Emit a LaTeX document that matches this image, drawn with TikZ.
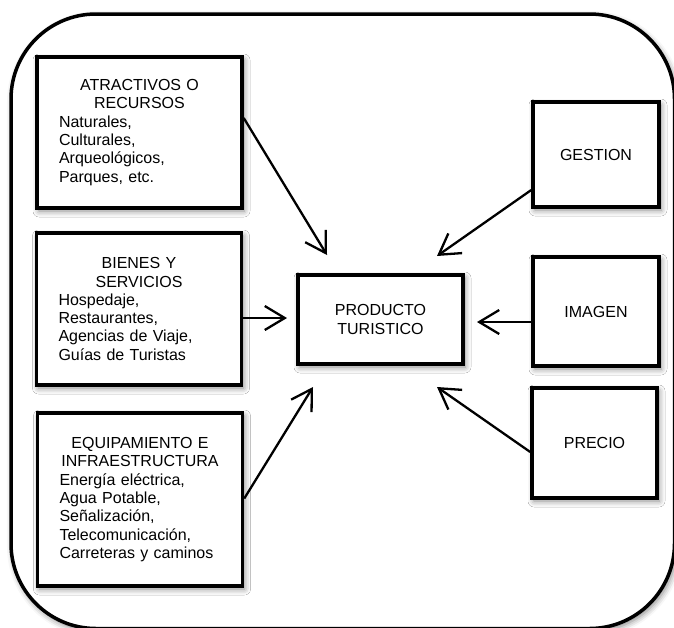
\documentclass[tikz,border=0pt]{standalone}
\usepackage{fontspec}
\setmainfont{Liberation Sans}
\usetikzlibrary{arrows.meta,shadows.blur}
\newcommand{\titulo}[1]{\makebox[\hsize]{#1}}
\tikzset{
  sombra/.style={blur shadow={shadow xshift=2pt, shadow yshift=-3pt, shadow blur radius=6pt, shadow opacity=50}},
  marco/.style={line width=3.5pt, fill=white, rounded corners=85pt, sombra},
  caja/.style={draw, line width=3.5pt, fill=white, sombra, font=\fontsize{16pt}{18.3pt}\selectfont},
  lista/.style={caja, text width=161pt, inner xsep=22pt, inner ysep=0pt, align=left},
  chica/.style={caja, align=center, inner sep=0pt},
  flecha/.style={line width=2.3pt, -{Straight Barb[length=20pt, width=24pt, line width=2.3pt]}}
}
\begin{document}
\begin{tikzpicture}[x=1pt, y=-1pt]
	\useasboundingbox (0,0) rectangle (674,627);
	\draw[marco] (11,14) rectangle (674.5,628.5);
	% cajas de la izquierda
	\node[lista, minimum height=151pt] (atr) at (139.5,132.5) {\titulo{ATRACTIVOS O}\\ \titulo{RECURSOS}\\ Naturales,\\ Culturales,\\ Arqueológicos,\\ Parques, etc.};
	\node[lista, minimum height=152pt] (bie) at (139,309) {\titulo{BIENES Y}\\ \titulo{SERVICIOS}\\ Hospedaje,\\ Restaurantes,\\ Agencias de Viaje,\\ Guías de Turistas};
	\node[lista, minimum height=173pt] (equ) at (140,499.5) {\titulo{EQUIPAMIENTO E}\\ \titulo{INFRAESTRUCTURA}\\ Energía eléctrica,\\ Agua Potable,\\ Señalización,\\ Telecomunicación,\\ Carreteras y caminos};
	% centro
	\node[chica, minimum width=165pt, minimum height=89pt] (prod) at (380.5,319.5) {PRODUCTO\\ TURISTICO};
	% cajas de la derecha
	\node[chica, minimum width=126pt, minimum height=105pt] (ges) at (596,154.5) {GESTION};
	\node[chica, minimum width=126pt, minimum height=109pt] (ima) at (596,311.5) {IMAGEN};
	\node[chica, minimum width=125pt, minimum height=110pt] (pre) at (594.5,443) {PRECIO};
	% puntas de flecha
	\coordinate (t1) at (327,255);
	\coordinate (t2) at (287,318);
	\coordinate (t3) at (313,387);
	\coordinate (t4) at (437,256);
	\coordinate (t5) at (477,322);
	\coordinate (t6) at (437,387);
	\draw[flecha] ([yshift=14.5pt]atr.east) -- (t1);
	\draw[flecha] ([yshift=-9pt]bie.east) -- (t2);
	\draw[flecha] ([yshift=1pt]equ.east) -- (t3);
	\draw[flecha] ([yshift=-35.5pt]ges.west) -- (t4);
	\draw[flecha] ([yshift=-10.5pt]ima.west) -- (t5);
	\draw[flecha] ([yshift=-9pt]pre.west) -- (t6);
\end{tikzpicture}
\end{document}
